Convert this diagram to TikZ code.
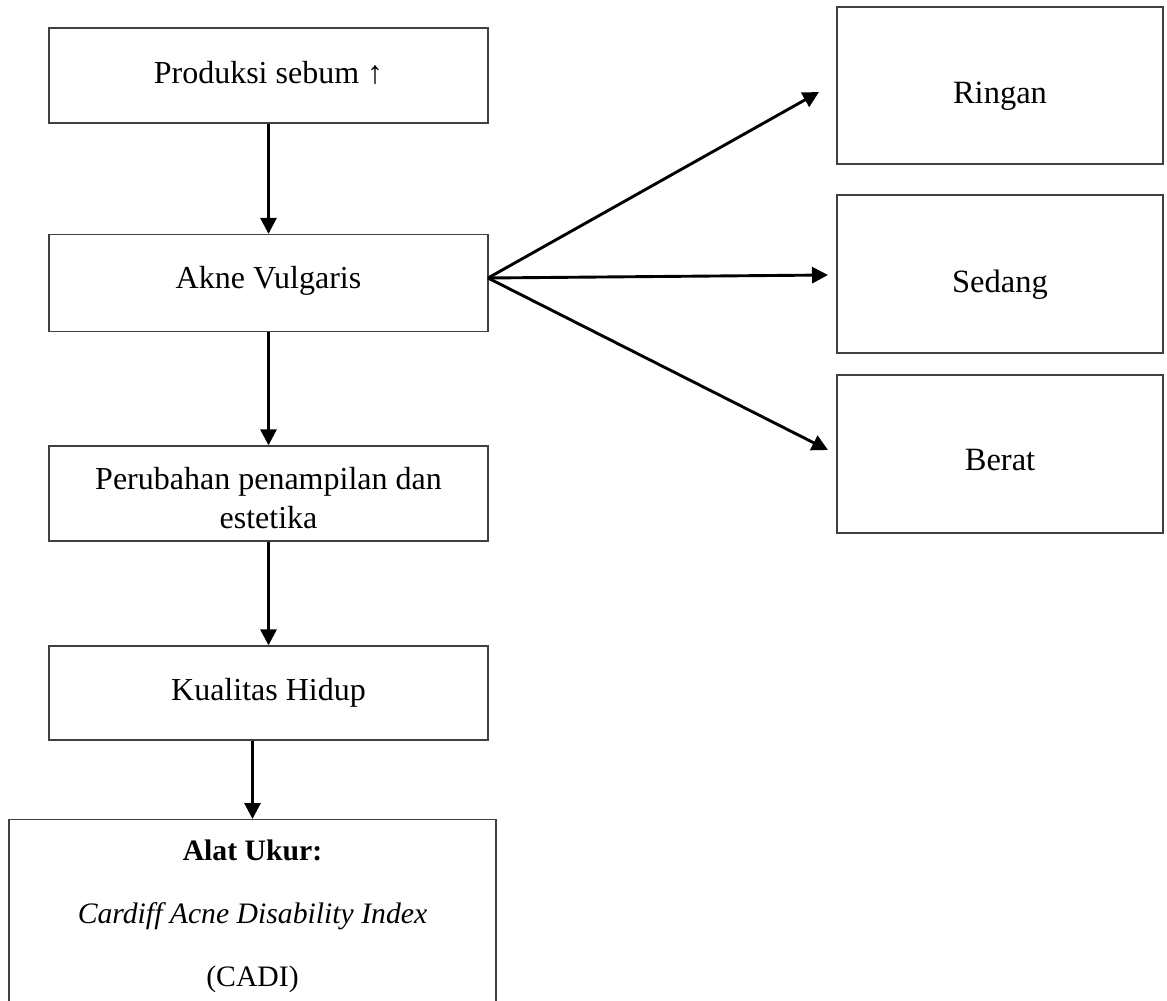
\documentclass[tikz,border=0pt]{standalone}
\usepackage{fontspec}
\setmainfont{Liberation Serif}
\usetikzlibrary{arrows.meta,calc}
\newcommand\txtshift[2]{\raisebox{#1}[\height][\depth]{#2}}
\begin{document}
\begin{tikzpicture}[x=1pt,y=-1pt,
  box/.style={draw=black!75,line width=1.3pt,rectangle,inner sep=0pt,
    minimum width=439pt,align=center,
    font=\fontsize{32}{39}\selectfont},
  rbox/.style={box,minimum width=326pt,minimum height=158pt,
    font=\fontsize{32.5}{39}\selectfont},
  arr/.style={line width=2.9pt,-{Triangle[length=16pt,width=16pt]}}
]
\clip (0,0) rectangle (1167,1001);
\fill[white] (0,0) rectangle (1167,1001);

\node[box,minimum height=95pt] (b1) at (268.5,75.5) {\txtshift{3pt}{Produksi sebum ↑}};
\node[box,minimum height=97pt] (b2) at (268.5,283) {\txtshift{2pt}{Akne Vulgaris}};
\node[box,minimum height=95pt] (b3) at (268.5,493.5) {\txtshift{-5pt}{Perubahan penampilan dan}\\\txtshift{-5pt}{estetika}};
\node[box,minimum height=94pt] (b4) at (268.5,693) {Kualitas Hidup};
\node[box,minimum width=487pt,minimum height=220pt,anchor=north] (b5) at (252.5,819) {};
\node[align=center,font=\fontsize{29.7}{63}\selectfont] (b5t) at (252.5,916)
  {\textbf{Alat Ukur:}\\\textit{Cardiff Acne Disability Index}\\(CADI)};

\node[rbox,minimum height=157pt] (r1) at (1000,85.5) {\txtshift{-11pt}{Ringan}};
\node[rbox] (r2) at (1000,274) {\txtshift{-11pt}{Sedang}};
\node[rbox] (r3) at (1000,454) {\txtshift{-6pt}{Berat}};

\coordinate (fan) at (488,278);
\coordinate (t1) at (819,92);
\coordinate (t2) at (828,275);
\coordinate (t3) at (828,450);

\draw[arr] (b1) -- (b2);
\draw[arr] (b2.south) -- (b3.north);
\draw[arr] (b3.south) -- (b4.north);
\draw[arr] (b4.south -| b5.north) -- (b5.north);

\draw[arr] (fan) -- (t1);
\draw[arr] (fan) -- (t2);
\draw[arr] (fan) -- (t3);
\end{tikzpicture}
\end{document}
